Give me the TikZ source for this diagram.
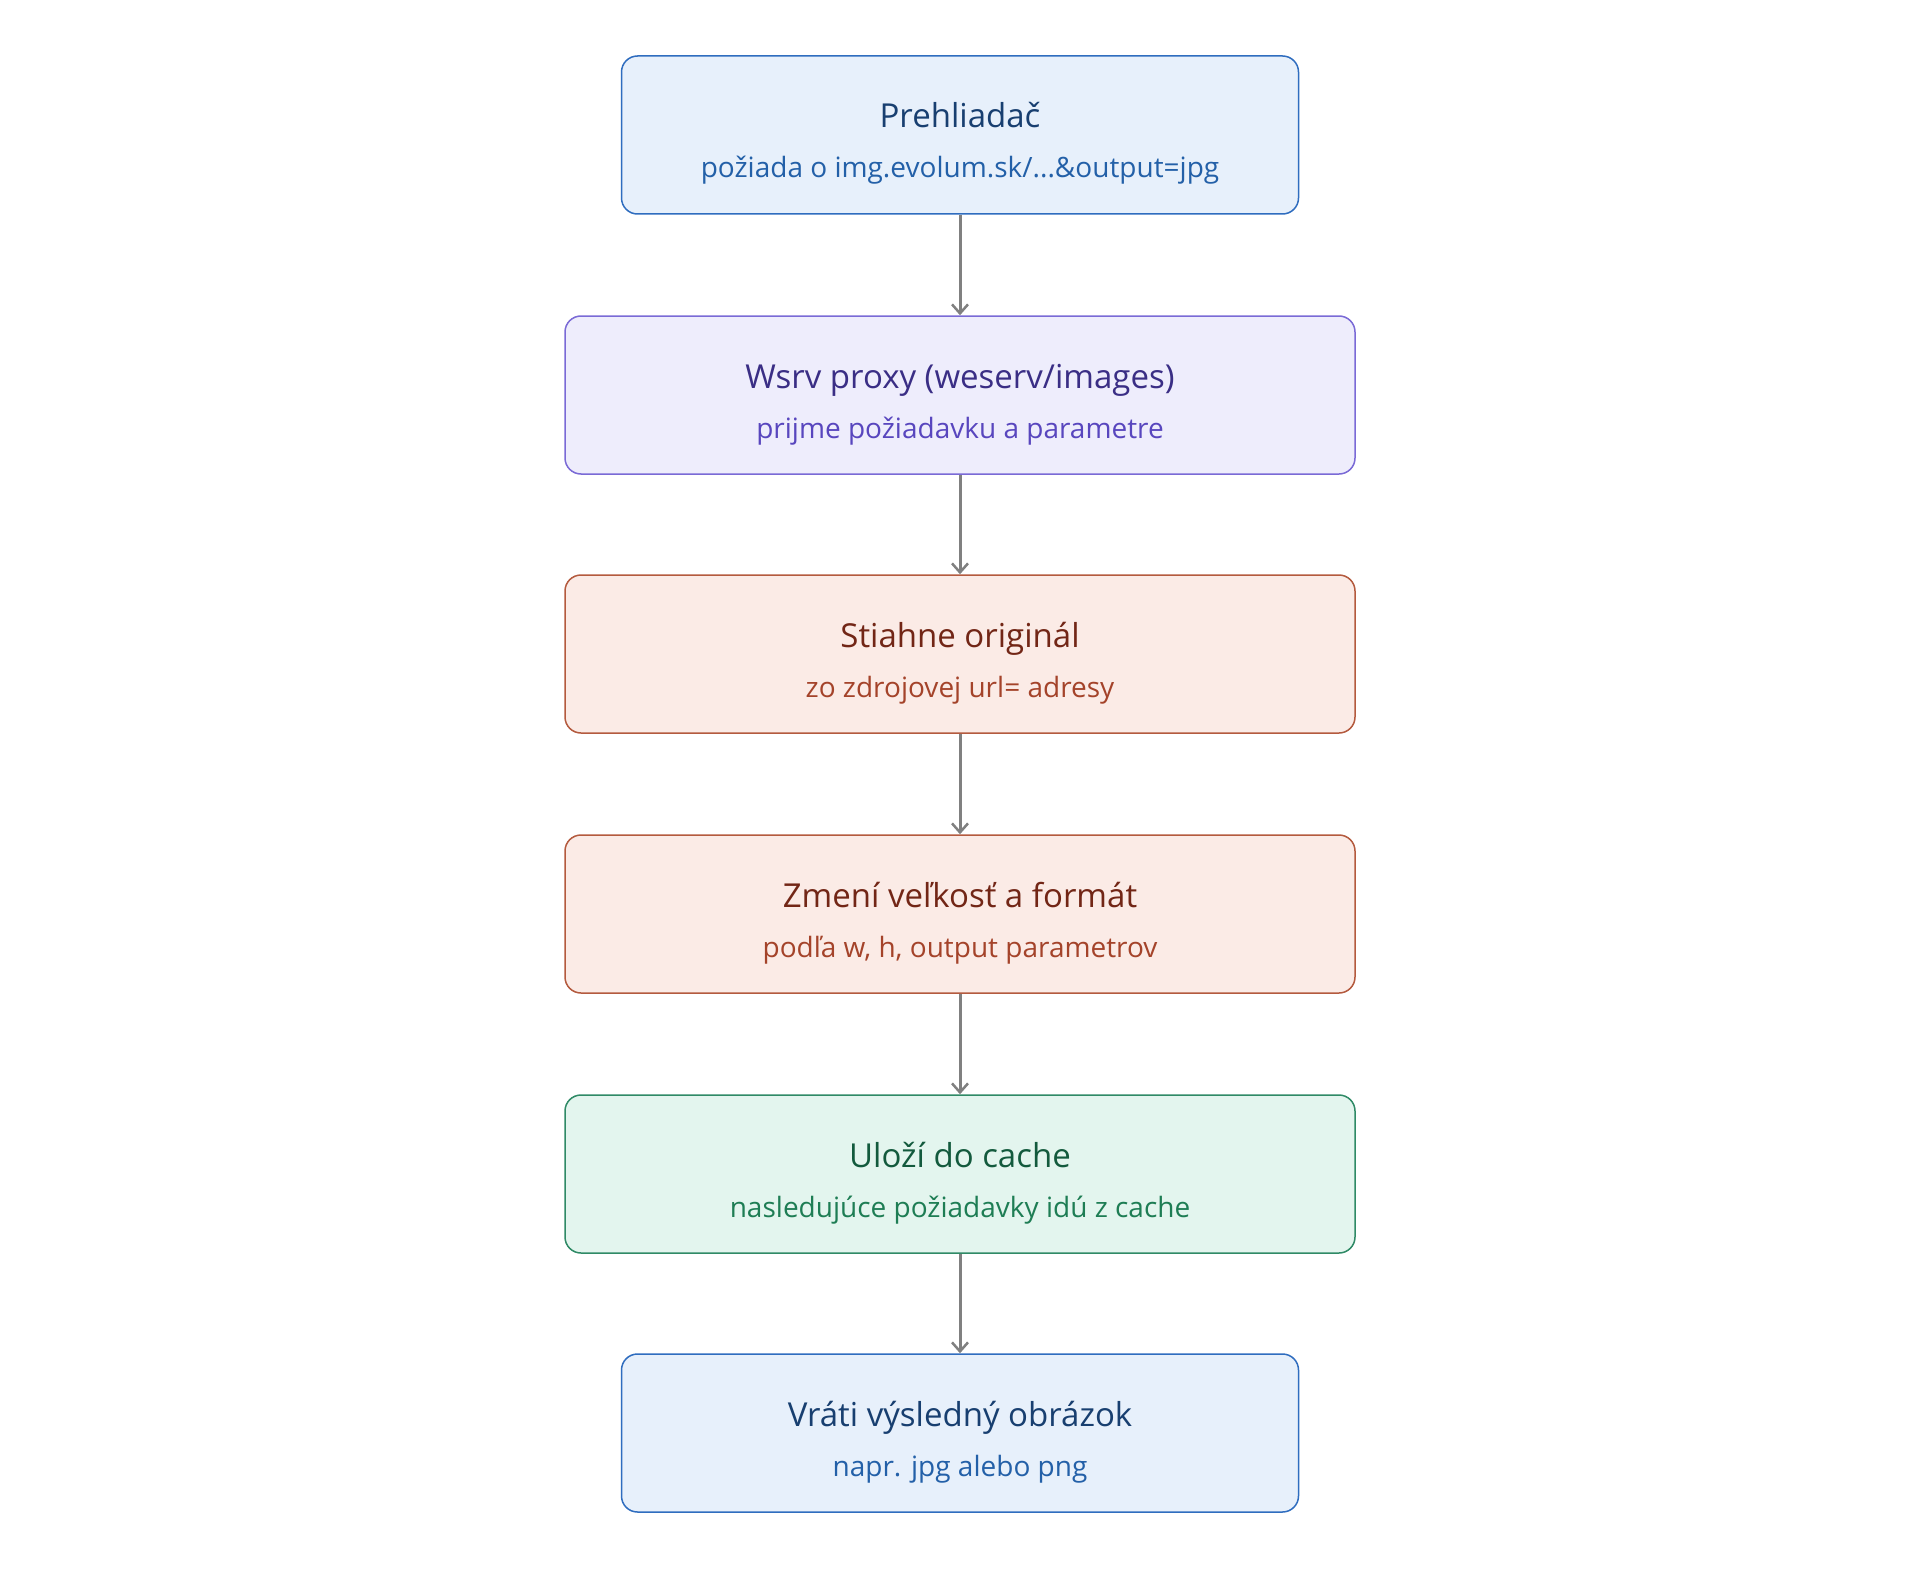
\documentclass[tikz,border=0pt]{standalone}
\usepackage{fontspec}
\setmainfont{Open Sans}
\usetikzlibrary{arrows.meta}
\definecolor{bF}{HTML}{E7F0FB}\definecolor{bD}{HTML}{2F6DBF}\definecolor{bT}{HTML}{183F70}\definecolor{bS}{HTML}{2360A8}
\definecolor{pF}{HTML}{EEEDFC}\definecolor{pD}{HTML}{7A6AD6}\definecolor{pT}{HTML}{3A2E85}\definecolor{pS}{HTML}{5846BE}
\definecolor{oF}{HTML}{FBEBE6}\definecolor{oD}{HTML}{B45A3E}\definecolor{oT}{HTML}{722616}\definecolor{oS}{HTML}{A4432A}
\definecolor{gF}{HTML}{E3F5EE}\definecolor{gD}{HTML}{2F8A66}\definecolor{gT}{HTML}{135A3D}\definecolor{gS}{HTML}{1E7D54}
\tikzset{x=1pt,y=-1pt,
 box/.style n args={3}{draw=#2,fill=#1,line width=1.5pt,rounded corners=16pt,minimum height=158pt,align=center,inner sep=0pt},
 arr/.style={draw={rgb,255:red,128;green,128;blue,128},line width=3pt,-{Straight Barb[length=9pt,width=16pt,line width=2.5pt]}},
 ttl/.style={font=\fontsize{33}{40}\selectfont},
 sub/.style={font=\fontsize{28}{34}\selectfont}}
\newcommand{\bx}[9]{%
 \node[box={#4}{#5}{},minimum width=#3pt] (#1) at (960,#2) {};
 \node[ttl,text=#6,anchor=base] (#1t) at (960,#2-7) {#8};
 \node[sub,text=#7,anchor=base] (#1s) at (960,#2+43) {#9};}
\begin{document}
\begin{tikzpicture}
\useasboundingbox (0,0) rectangle (1920,1581);
\fill[white] (0,0) rectangle (1920,1581);
\bx{a}{135}{677}{bF}{bD}{bT}{bS}{Prehliadač}{požiada o img.evolum.sk/...\&output=jpg}
\bx{b}{395}{790}{pF}{pD}{pT}{pS}{Wsrv proxy (weserv/images)}{prijme požiadavku a parametre}
\bx{c}{654}{790}{oF}{oD}{oT}{oS}{Stiahne originál}{zo zdrojovej url= adresy}
\bx{d}{914}{790}{oF}{oD}{oT}{oS}{Zmení veľkosť a formát}{podľa w, h, output parametrov}
\bx{e}{1174}{790}{gF}{gD}{gT}{gS}{Uloží do cache}{nasledujúce požiadavky idú z cache}
\bx{f}{1433}{677}{bF}{bD}{bT}{bS}{Vráti výsledný obrázok}{napr. jpg alebo png}
\foreach \u/\v in {a/b,b/c,c/d,d/e,e/f} \draw[arr] (\u.south) -- (\v.north);
\end{tikzpicture}
\end{document}
